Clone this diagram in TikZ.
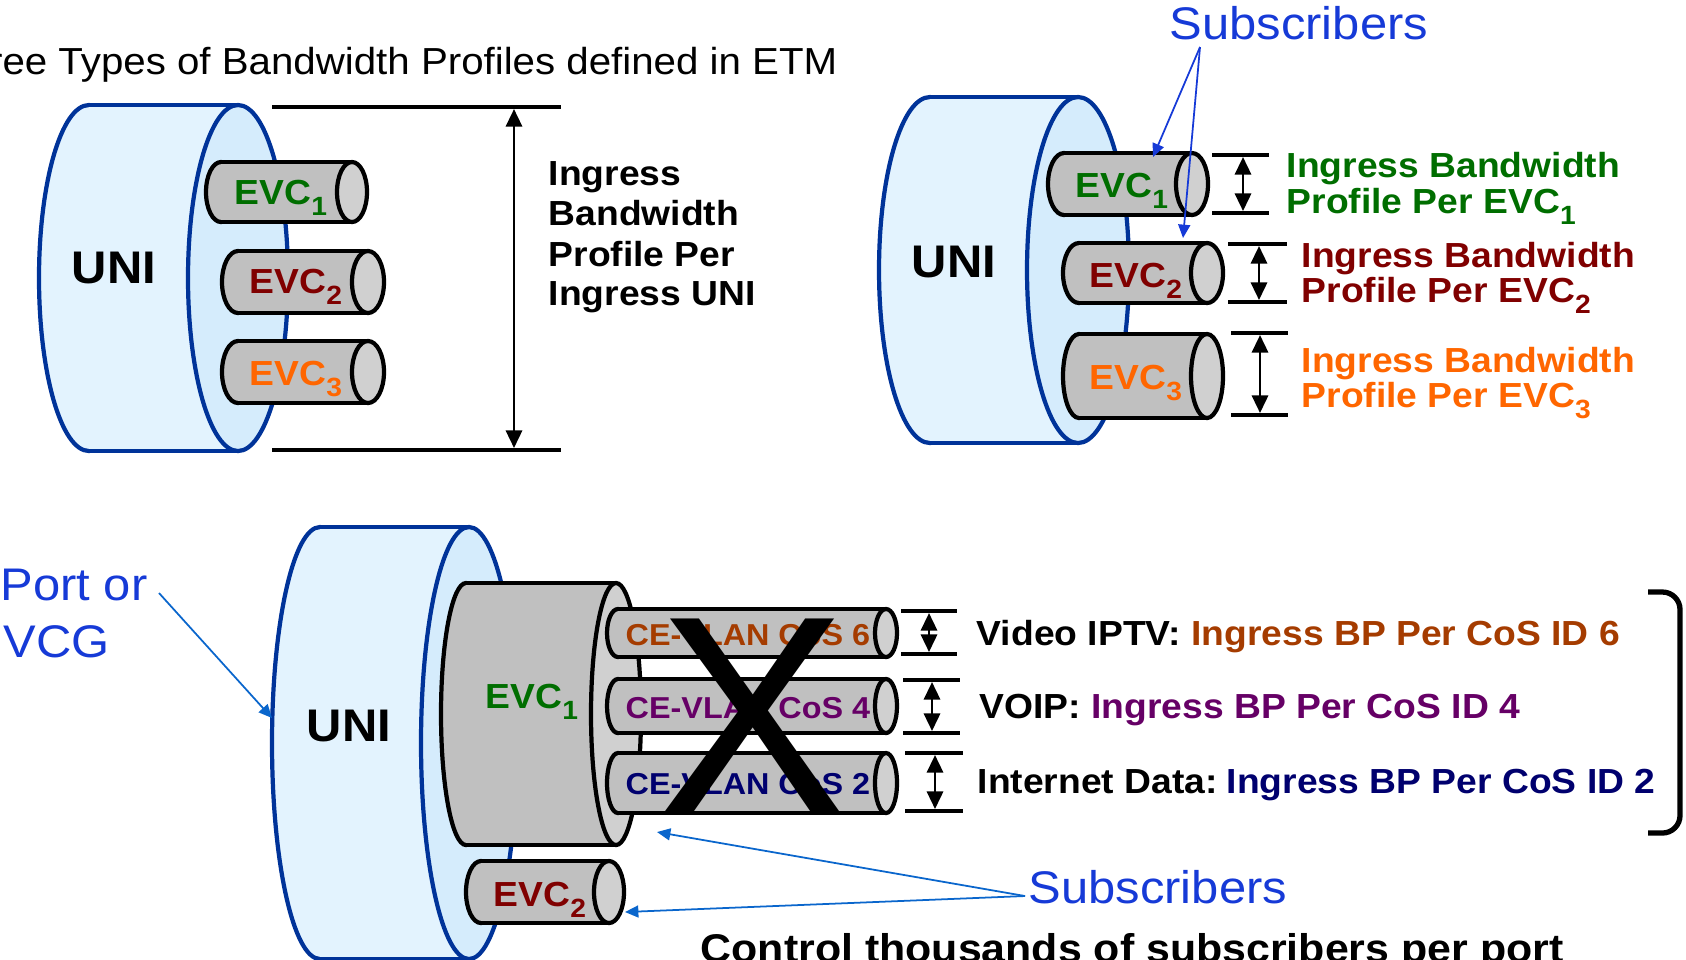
\documentclass[tikz,border=0pt]{standalone}
\usepackage{fontspec}
\setmainfont{Liberation Sans}[FakeStretch=1.07]
\newfontfamily\crossfont{Liberation Sans}
\usetikzlibrary{arrows.meta}

\definecolor{uniline}{RGB}{0,51,153}
\definecolor{uniside}{RGB}{227,243,254}
\definecolor{uniface}{RGB}{213,236,252}
\definecolor{tubeside}{RGB}{192,192,192}
\definecolor{tubeface}{RGB}{208,208,208}
\definecolor{evcgreen}{RGB}{0,110,0}
\definecolor{evcred}{RGB}{128,0,0}
\definecolor{evcorange}{RGB}{255,102,0}
\definecolor{cosbrown}{RGB}{165,60,0}
\definecolor{cospurple}{RGB}{102,0,102}
\definecolor{cosnavy}{RGB}{0,0,110}
\definecolor{subblue}{RGB}{22,58,215}
\definecolor{portblue}{RGB}{10,102,204}

% horizontal cylinder: back x, front x, centre y, x radius, y radius, side, face, edge
\newcommand{\tube}[8]{%
  \filldraw[fill=#6,draw=#8,line width=1.2pt] (#1,#3) ellipse ({#4} and {#5});
  \fill[#6] (#1,#3-#5) rectangle (#2,#3+#5);
  \draw[#8,line width=1.2pt] (#1,#3-#5) -- (#2,#3-#5) (#1,#3+#5) -- (#2,#3+#5);
  \filldraw[fill=#7,draw=#8,line width=1.2pt] (#2,#3) ellipse ({#4} and {#5});
}
% height marker: left x, right x, arrow x, top y, bottom y
\newcommand{\dimmark}[5]{%
  \draw[dimline] (#1,#4) -- (#2,#4) (#1,#5) -- (#2,#5);
  \draw[dimarrow] (#3,#4+2) -- (#3,#5-2);
}
\newcommand{\sub}[1]{\raisebox{-3.4pt}{\fontsize{7.5}{7.5}\selectfont #1}}
\newcommand{\evc}[1]{EVC\sub{#1}}

\tikzset{
  lbl/.style={inner sep=0pt,anchor=base west,font=\bfseries\fontsize{9.9}{10}\selectfont},
  unilbl/.style={inner sep=0pt,anchor=base west,font=\bfseries\fontsize{13}{13}\selectfont},
  bluelbl/.style={inner sep=0pt,anchor=base west,text=subblue,font=\fontsize{13}{13}\selectfont},
  coslbl/.style={inner sep=0pt,anchor=base west,font=\bfseries\fontsize{8.6}{8.6}\selectfont},
  dimline/.style={line width=1pt},
  dimarrow/.style={line width=0.75pt,{Triangle[length=5pt,width=4.6pt]}-{Triangle[length=5pt,width=4.6pt]}},
  callout/.style={line width=0.5pt,-{Triangle[length=3.8pt,width=3.4pt]}}
}

\begin{document}
\begin{tikzpicture}[x=0.01cm,y=-0.01cm]
\useasboundingbox (0,0) rectangle (1686,959);

\node[anchor=base east,inner sep=0pt,font=\fontsize{10.7}{12}\selectfont] (title) at (838,74) {Three Types of Bandwidth Profiles defined in ETM};

% per UNI
\tube{89}{238}{278}{50}{173}{uniside}{uniface}{uniline}
\node[unilbl] (uni1) at (71,283) {UNI};
\tube{221}{352}{192}{15}{30}{tubeside}{tubeface}{black}
\tube{238}{368}{282}{16}{31}{tubeside}{tubeface}{black}
\tube{238}{368}{372}{16}{31}{tubeside}{tubeface}{black}
\node[lbl,text=evcgreen] (a1) at (234,204) {\evc{1}};
\node[lbl,text=evcred] (a2) at (249,293) {\evc{2}};
\node[lbl,text=evcorange] (a3) at (249,385) {\evc{3}};
\dimmark{272}{561}{514}{107}{450}
\node[lbl] (pu1) at (548,185) {Ingress};
\node[lbl] (pu2) at (548,225) {Bandwidth};
\node[lbl] (pu3) at (548,266) {Profile Per};
\node[lbl] (pu4) at (548,305) {Ingress UNI};

% per EVC
\tube{930}{1078}{270}{51}{173}{uniside}{uniface}{uniline}
\node[unilbl] (uni2) at (911,277) {UNI};
\tube{1064}{1192}{184}{16}{31}{tubeside}{tubeface}{black}
\tube{1079}{1207}{273}{16}{30}{tubeside}{tubeface}{black}
\tube{1079}{1207}{376}{16}{42}{tubeside}{tubeface}{black}
\node[lbl,text=evcgreen] (b1) at (1075,197) {\evc{1}};
\node[lbl,text=evcred] (b2) at (1089,287) {\evc{2}};
\node[lbl,text=evcorange] (b3) at (1089,389) {\evc{3}};
\dimmark{1212}{1269}{1243}{155}{213}
\dimmark{1228}{1287}{1259}{244}{302}
\dimmark{1231}{1288}{1260}{333}{415}
\node[lbl,text=evcgreen] (pe1a) at (1286,177) {Ingress Bandwidth};
\node[lbl,text=evcgreen] (pe1b) at (1286,213) {Profile Per \evc{1}};
\node[lbl,text=evcred] (pe2a) at (1301,267) {Ingress Bandwidth};
\node[lbl,text=evcred] (pe2b) at (1301,302) {Profile Per \evc{2}};
\node[lbl,text=evcorange] (pe3a) at (1301,372) {Ingress Bandwidth};
\node[lbl,text=evcorange] (pe3b) at (1301,407) {Profile Per \evc{3}};
\node[bluelbl] (subs1) at (1169,39) {Subscribers};
\coordinate (subs1root) at (1200,47);
\coordinate (b1top) at (1153,157);
\coordinate (b2top) at (1183,238);
\draw[callout,subblue] (subs1root) -- (b1top);
\draw[callout,subblue] (subs1root) -- (b2top);

% per CoS
\tube{320}{469}{743}{48}{216}{uniside}{uniface}{uniline}
\node[unilbl] (uni3) at (306,741) {UNI};
\tube{466}{616}{714}{25}{131}{tubeside}{tubeface}{black}
\tube{481}{609}{892}{15}{31}{tubeside}{tubeface}{black}
\node[lbl,text=evcgreen] (c1) at (485,708) {\evc{1}};
\node[lbl,text=evcred] (c2) at (493,906) {\evc{2}};
\tube{618}{886}{633}{11}{24}{tubeside}{tubeface}{black}
\tube{618}{886}{706}{11}{27}{tubeside}{tubeface}{black}
\tube{618}{886}{783}{11}{30}{tubeside}{tubeface}{black}
\node[coslbl,text=cosbrown] (cos6) at (625,645) {CE-VLAN CoS 6};
\node[coslbl,text=cospurple] (cos4) at (625,718) {CE-VLAN CoS 4};
\node[coslbl,text=cosnavy] (cos2) at (625,794) {CE-VLAN CoS 2};
\node[inner sep=0pt,anchor=base,font=\crossfont\fontsize{80}{80}\selectfont] (cross) at (752,812) {X};
\dimmark{901}{957}{929}{611}{654}
\dimmark{903}{960}{932}{680}{733}
\dimmark{905}{963}{935}{753}{811}
\node[lbl] (pc6) at (976,645) {Video IPTV: \textcolor{cosbrown}{Ingress BP Per CoS ID 6}};
\node[lbl] (pc4) at (979,718) {VOIP: \textcolor{cospurple}{Ingress BP Per CoS ID 4}};
\node[lbl] (pc2) at (977,793) {Internet Data:\hspace{0.26em}\textcolor{cosnavy}{Ingress BP Per CoS ID 2}};
\draw[line width=1.5pt,rounded corners=5pt] (1648,592) -- (1680,592) -- (1680,833) -- (1648,833);

\node[bluelbl] (port) at (0,600) {Port or};
\node[bluelbl] (vcg) at (3,657) {VCG};
\coordinate (portroot) at (159,593);
\coordinate (uni3rim) at (272,718);
\draw[callout,portblue] (portroot) -- (uni3rim);

\node[bluelbl] (subs2) at (1028,903) {Subscribers};
\coordinate (subs2root) at (1025,896);
\coordinate (c1face) at (657,832);
\coordinate (c2face) at (625,912);
\draw[callout,portblue] (subs2root) -- (c1face);
\draw[callout,portblue] (subs2root) -- (c2face);

\node[lbl,font=\bfseries\fontsize{11.4}{12}\selectfont] (control) at (700,962) {Control thousands of subscribers per port};
\end{tikzpicture}
\end{document}
